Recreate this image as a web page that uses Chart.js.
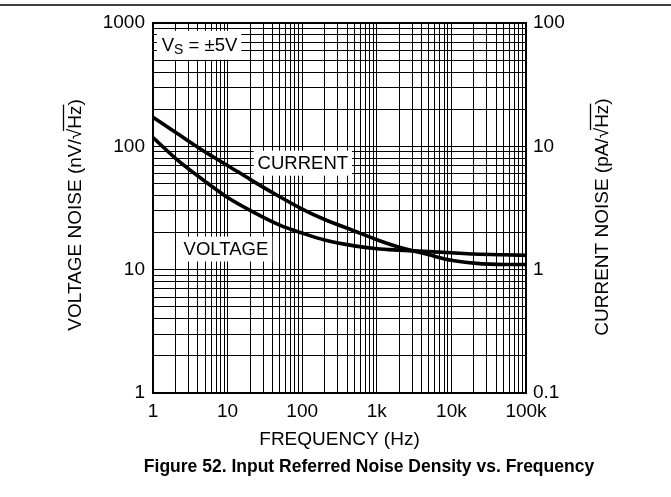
<!DOCTYPE html>
<html><head><meta charset="utf-8">
<script src="https://cdn.jsdelivr.net/npm/chart.js@4.4.1/dist/chart.umd.min.js"></script>
<style>html,body{margin:0;padding:0;background:#fff;}#wrap{width:671px;height:497px;position:relative;}</style>
</head><body><div id="wrap"><canvas id="c" width="671" height="497"></canvas></div>
<script>
// ---- data ----
const frequencies  = [1, 2, 5, 10, 20, 50, 100, 200, 500, 1000, 2000, 5000, 10000, 20000, 50000, 100000];
const voltageNoise = [118, 80, 52, 38.5, 30.3, 23.0, 19.8, 17.4, 15.6, 14.8, 14.4, 14.0, 13.7, 13.4, 13.2, 13.1]; // nV/rtHz
const currentNoise = [17.2, 13.0, 9.0, 7.0, 5.4, 3.9, 3.1, 2.55, 2.06, 1.75, 1.52, 1.32, 1.19, 1.13, 1.10, 1.10]; // pA/rtHz
const xTickLabels     = ['1', '10', '100', '1k', '10k', '100k'];
const leftTickLabels  = ['1', '10', '100', '1000'];
const rightTickLabels = ['0.1', '1', '10', '100'];
const xTitle = 'FREQUENCY (Hz)';
const leftTitle  = ['VOLTAGE NOISE (nV/', 'Hz)'];
const rightTitle = ['CURRENT NOISE (pA/', 'Hz)'];
const figTitle = 'Figure 52. Input Referred Noise Density vs. Frequency';
const curveLabels = ['CURRENT', 'VOLTAGE'];

// ---- helpers ----
const FONT = "'Liberation Sans', Arial, Helvetica, sans-serif";
function logTicks(min, max) {
  const out = [];
  const e0 = Math.round(Math.log10(min)), e1 = Math.round(Math.log10(max));
  for (let e = e0; e < e1; e++) for (let m = 1; m <= 9; m++) out.push(Number((m * Math.pow(10, e)).toPrecision(6)));
  out.push(max);
  return out;
}
function decadeLabel(v, min, labels) {
  const l = Math.log10(v), r = Math.round(l);
  if (Math.abs(l - r) > 1e-6) return '';
  const s = labels[r - Math.round(Math.log10(min))];
  return s === undefined ? '' : s;
}

const annot = {
  vs:      { f: 4.2, v: 660,  h: 29 },
  current: { f: 102, v: 73,   h: 25 },
  voltage: { f: 9.5, v: 14.7, h: 25 }
};

const drawPlugin = {
  id: 'drawPlugin',
  beforeDatasetsDraw(chart) {
    const ctx = chart.ctx, x = chart.scales.x, y = chart.scales.y;
    ctx.save();
    ctx.textBaseline = 'middle';
    const simple = [[curveLabels[0], annot.current], [curveLabels[1], annot.voltage]];
    ctx.font = '18.5px ' + FONT;
    for (const [t, a] of simple) {
      const cx = x.getPixelForValue(a.f), cy = y.getPixelForValue(a.v);
      const w = ctx.measureText(t).width;
      ctx.fillStyle = '#fff';
      ctx.fillRect(cx - w / 2 - 4, cy - a.h / 2, w + 8, a.h);
      ctx.fillStyle = '#000';
      ctx.textAlign = 'center';
      ctx.fillText(t, cx, cy + 1);
    }
    const big = '18.5px ' + FONT, small = '14px ' + FONT;
    ctx.font = big; const w1 = ctx.measureText('V').width; const w3 = ctx.measureText(' = ±5V').width;
    ctx.font = small; const w2 = ctx.measureText('S').width;
    const tw = w1 + w2 + w3;
    const cx = x.getPixelForValue(annot.vs.f), cy = y.getPixelForValue(annot.vs.v);
    ctx.fillStyle = '#fff';
    ctx.fillRect(cx - tw / 2 - 5, cy - annot.vs.h / 2, tw + 9, annot.vs.h);
    ctx.fillStyle = '#000';
    ctx.textAlign = 'left';
    let px = cx - tw / 2;
    ctx.font = big; ctx.fillText('V', px, cy + 1); px += w1;
    ctx.font = small; ctx.fillText('S', px, cy + 5); px += w2;
    ctx.font = big; ctx.fillText(' = ±5V', px, cy + 1);
    ctx.restore();
  },
  afterDatasetsDraw(chart) {
    const ctx = chart.ctx, a = chart.chartArea;
    ctx.save();
    ctx.strokeStyle = '#000'; ctx.lineWidth = 2;
    ctx.strokeRect(a.left, a.top, a.right - a.left, a.bottom - a.top);
    ctx.restore();
  },
  afterDraw(chart) {
    const ctx = chart.ctx, a = chart.chartArea;
    ctx.save();
    ctx.fillStyle = '#000'; ctx.strokeStyle = '#000';
    ctx.lineWidth = 1.5;
    ctx.beginPath(); ctx.moveTo(0, 5); ctx.lineTo(671, 5); ctx.stroke();
    ctx.font = '19px ' + FONT; ctx.textAlign = 'center'; ctx.textBaseline = 'middle';
    ctx.fillText(xTitle, (a.left + a.right) / 2, 440);
    ctx.font = 'bold 17.5px ' + FONT;
    ctx.fillText(figTitle, 369, 467);
    function rotTitle(parts, bx, cy) {
      ctx.save();
      ctx.translate(bx, cy); ctx.rotate(-Math.PI / 2);
      ctx.font = '19px ' + FONT; ctx.textBaseline = 'alphabetic'; ctx.textAlign = 'left';
      const wA = ctx.measureText(parts[0]).width, wR = ctx.measureText('√').width, wB = ctx.measureText(parts[1]).width;
      const hz = ctx.measureText('Hz').width;
      const total = wA + wR + wB;
      const x0 = -total / 2;
      ctx.fillText(parts[0] + '√' + parts[1], x0, 0);
      const ox = x0 + wA + wR * 0.8;
      ctx.lineWidth = 1.3;
      ctx.beginPath(); ctx.moveTo(ox, -17.5); ctx.lineTo(x0 + wA + wR + hz + 1, -17.5); ctx.stroke();
      ctx.restore();
    }
    rotTitle(leftTitle, 81, (a.top + a.bottom) / 2 + 7);
    rotTitle(rightTitle, 608, (a.top + a.bottom) / 2 + 9);
    ctx.restore();
  }
};

new Chart(document.getElementById('c'), {
  type: 'line',
  data: {
    datasets: [
      { label: 'VOLTAGE', yAxisID: 'y', data: frequencies.map((f, i) => ({ x: f, y: voltageNoise[i] })),
        borderColor: '#000', borderWidth: 3.6, pointRadius: 0, fill: false, cubicInterpolationMode: 'monotone' },
      { label: 'CURRENT', yAxisID: 'y2', data: frequencies.map((f, i) => ({ x: f, y: currentNoise[i] })),
        borderColor: '#000', borderWidth: 3.6, pointRadius: 0, fill: false, cubicInterpolationMode: 'monotone' }
    ]
  },
  options: {
    responsive: false, animation: false, devicePixelRatio: 1,
    layout: { padding: { top: 23, left: 0, right: 0, bottom: 0 } },
    plugins: { legend: { display: false }, tooltip: { enabled: false }, title: { display: false } },
    scales: {
      x: {
        type: 'logarithmic', position: 'bottom', min: 1, max: 100000,
        afterBuildTicks: s => { s.ticks = logTicks(1, 100000).map(v => ({ value: v })); },
        afterFit: s => { s.height = 104; },
        ticks: { autoSkip: false, maxRotation: 0, minRotation: 0, padding: 7, color: '#000',
                 font: { family: FONT, size: 19 }, callback: v => decadeLabel(v, 1, xTickLabels) },
        grid: { color: '#000', lineWidth: 1, drawTicks: false },
        border: { display: false }
      },
      y: {
        type: 'logarithmic', position: 'left', min: 1, max: 1000,
        afterBuildTicks: s => { s.ticks = logTicks(1, 1000).map(v => ({ value: v })); },
        afterFit: s => { s.width = 153; },
        ticks: { autoSkip: false, padding: 8, color: '#000',
                 font: { family: FONT, size: 19 }, callback: v => decadeLabel(v, 1, leftTickLabels) },
        grid: { color: '#000', lineWidth: 1, drawTicks: false },
        border: { display: false }
      },
      y2: {
        type: 'logarithmic', position: 'right', min: 0.1, max: 100,
        afterBuildTicks: s => { s.ticks = logTicks(0.1, 100).map(v => ({ value: v })); },
        afterFit: s => { s.width = 145; },
        ticks: { autoSkip: false, padding: 7, color: '#000',
                 font: { family: FONT, size: 19 }, callback: v => decadeLabel(v, 0.1, rightTickLabels) },
        grid: { display: false, drawTicks: false },
        border: { display: false }
      }
    }
  },
  plugins: [drawPlugin]
});
</script>
</body></html>
